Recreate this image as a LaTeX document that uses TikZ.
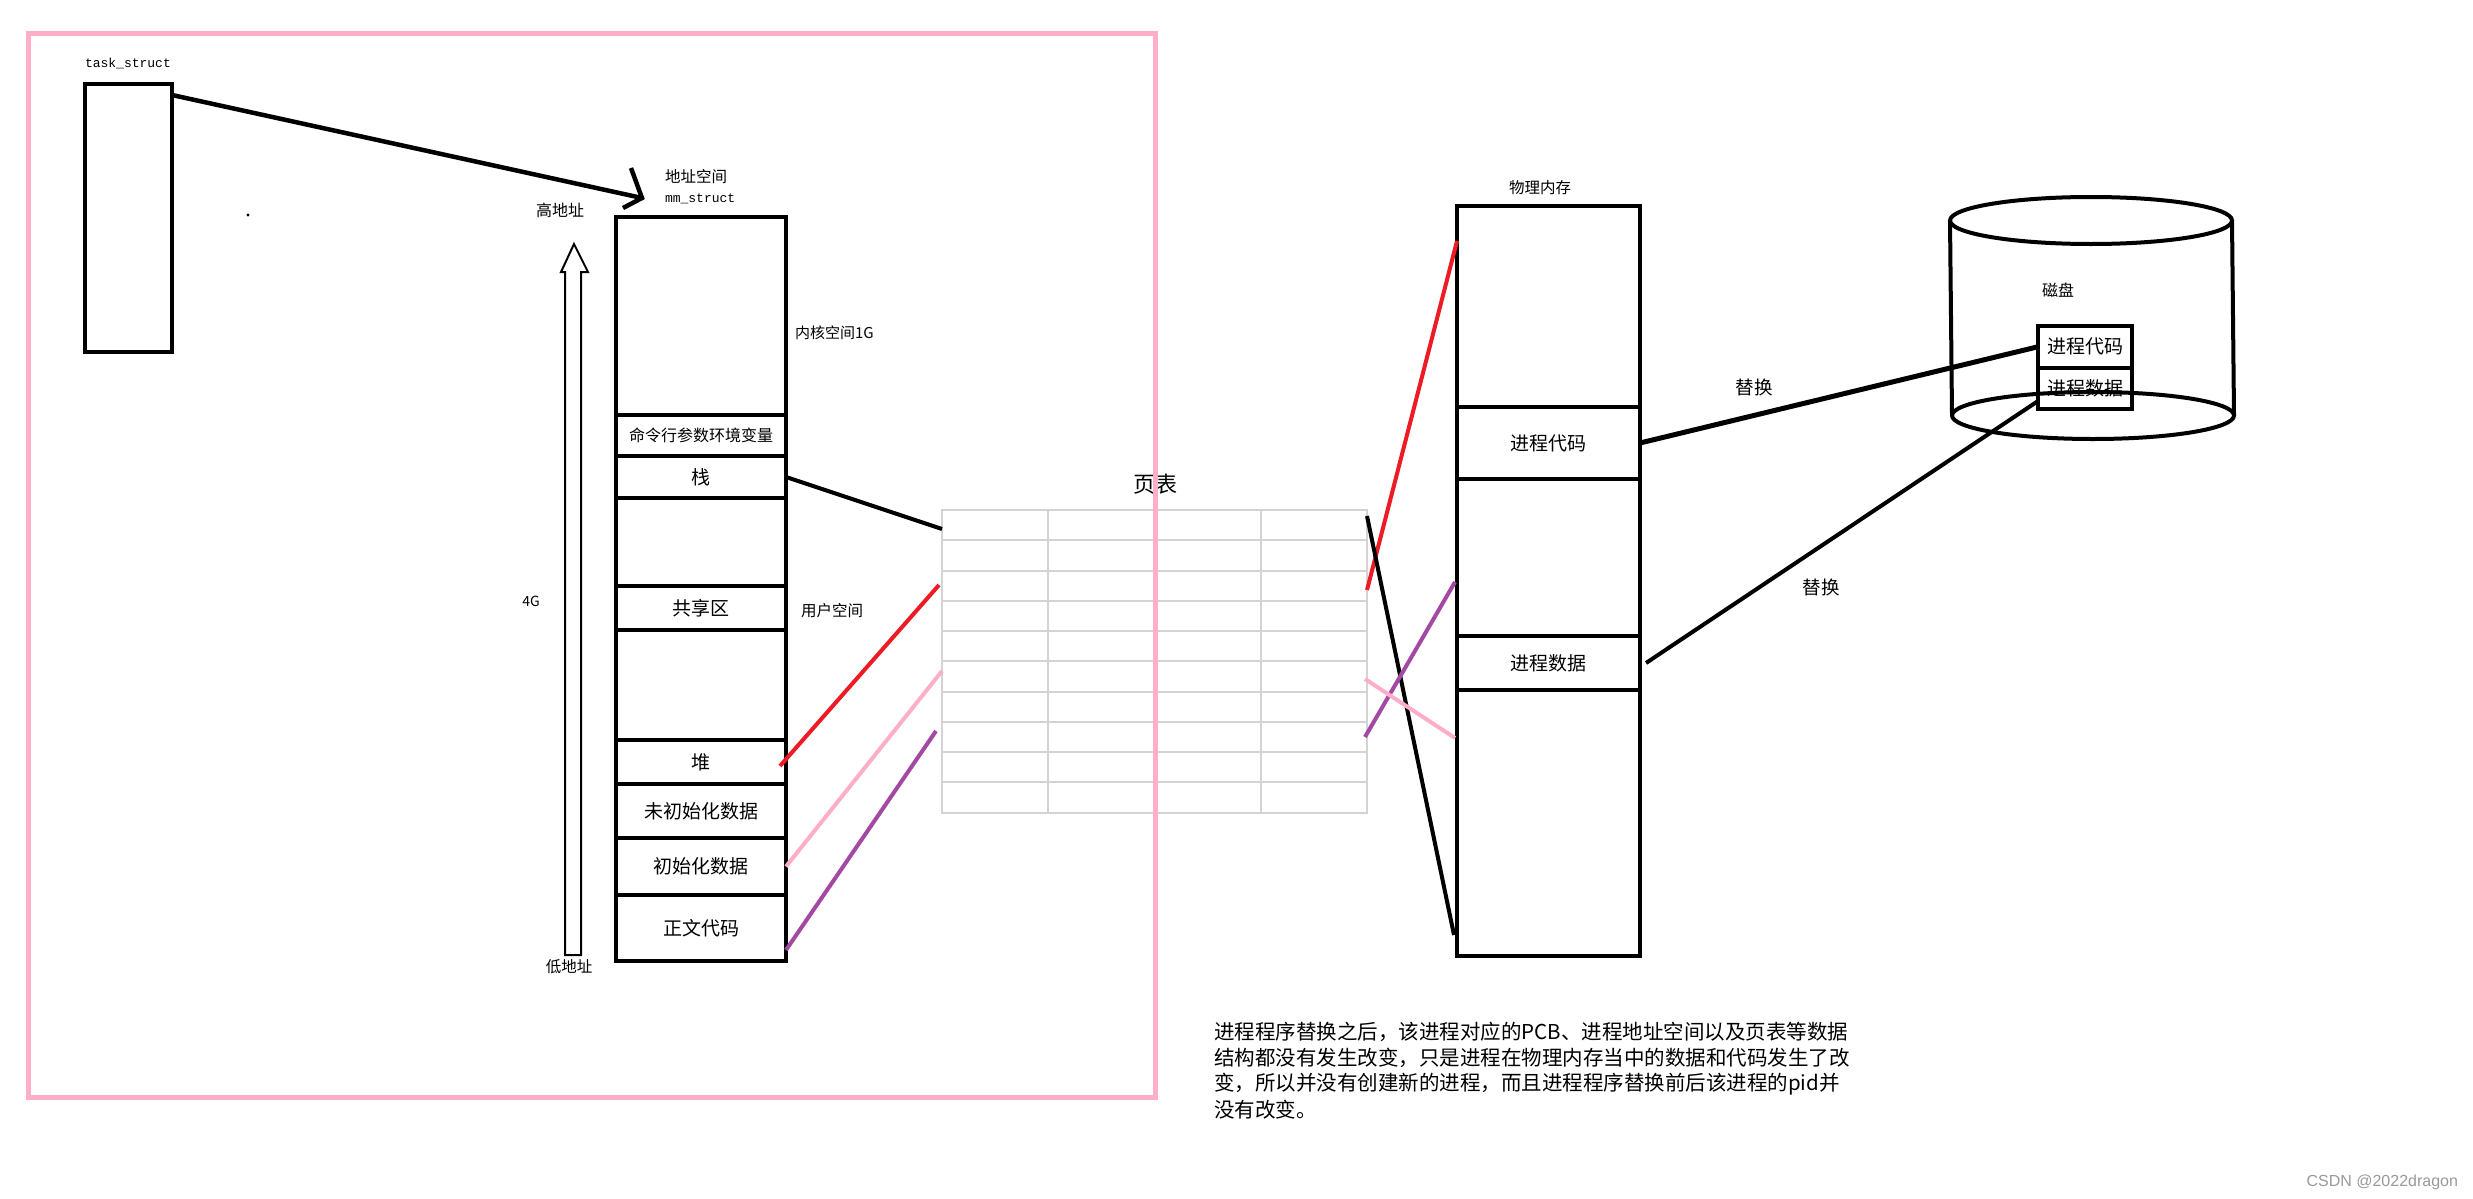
\documentclass[tikz,border=0pt]{standalone}
\usepackage{fontspec}
\setmainfont{Noto Sans CJK SC}
\newfontfamily\monof{Liberation Mono}
\newfontfamily\csdnf{Liberation Sans}
\usetikzlibrary{calc}
\definecolor{pinkf}{HTML}{FFAEC9}
\definecolor{redc}{HTML}{ED1C24}
\definecolor{purp}{HTML}{A349A4}
\definecolor{gridg}{HTML}{D3D3D3}
\definecolor{wmark}{HTML}{9A9A9A}
\newcommand\fsz[1]{\fontsize{#1}{#1}\selectfont}
\begin{document}
\begin{tikzpicture}[x=1pt,y=-1pt,
  seg/.style={draw=black,line width=4pt,inner sep=0pt,outer sep=0pt,anchor=north west},
  txt/.style={inner sep=0pt,outer sep=0pt,text=black},
  conn/.style={line width=4pt},
  gline/.style={draw=gridg,line width=2pt}]
\useasboundingbox (0,0) rectangle (2473,1199);
\fill[white] (0,0) rectangle (2473,1199);

% task_struct
\node[txt,anchor=west] (tsl) at (85,63) {\monof\fsz{13}task\_struct};
\node[seg,minimum width=87pt,minimum height=268pt] (task) at (85,84) {};
\fill (248,215) circle (1.6pt);
\coordinate (mmtip) at (642,198);
\draw[line width=4.5pt] ($(task.north east)+(0,11)$) -- (mmtip);
\draw[line width=4.5pt,line join=miter] (631,168) -- (mmtip) -- (623,208);
\node[txt,anchor=west] (asl) at (665,177) {\fsz{15.5}地址空间};
\node[txt,anchor=west] (mml) at (665,199) {\monof\fsz{13}mm\_struct};

% address arrow
\node[txt] (hi) at (560,210) {\fsz{16}高地址};
\node[txt] (lo) at (569,967) {\fsz{15.5}低地址};
\node[txt] (fg) at (531,601) {\fsz{14}4G};
\draw[line width=2pt,line join=miter] (565,955) -- (565,272) -- (561,272) -- (574,244) -- (588,272) -- (581,272) -- (581,955) -- cycle;

% address space column
\node[seg,minimum width=170pt,minimum height=198pt] (kern) at (616,217) {};
\node[seg,minimum width=170pt,minimum height=41pt] (cmd) at (616,415) {\fsz{16}命令行参数环境变量};
\node[seg,minimum width=170pt,minimum height=42pt] (stack) at (616,456) {\fsz{19}栈};
\node[seg,minimum width=170pt,minimum height=88pt] (gap1) at (616,498) {};
\node[seg,minimum width=170pt,minimum height=44pt] (shared) at (616,586) {\fsz{19}共享区};
\node[seg,minimum width=170pt,minimum height=110pt] (gap2) at (616,630) {};
\node[seg,minimum width=170pt,minimum height=44pt] (heap) at (616,740) {\fsz{19}堆};
\node[seg,minimum width=170pt,minimum height=54pt] (bss) at (616,784) {\fsz{19}未初始化数据};
\node[seg,minimum width=170pt,minimum height=57pt] (data) at (616,838) {\fsz{19}初始化数据};
\node[seg,minimum width=170pt,minimum height=66pt] (text) at (616,895) {\fsz{19}正文代码};
\node[txt,anchor=west] (kl) at (795,333) {\fsz{15}内核空间1G};
\node[txt,anchor=west] (ul) at (801,611) {\fsz{15.5}用户空间};

% page table
\node[txt] (ptl) at (1155,484) {\fsz{22}页表};
\node[gline,inner sep=0pt,outer sep=0pt,anchor=north west,minimum width=425pt,minimum height=302.5pt] (pt) at (942,510) {};
\foreach \i in {1,...,9}
  \draw[gline] ($(pt.north west)+(0,30.25*\i)$) -- ($(pt.north east)+(0,30.25*\i)$);
\foreach \j in {1,2,3}
  \draw[gline] ($(pt.north west)+(106.25*\j,0)$) -- ($(pt.south west)+(106.25*\j,0)$);

% left connectors
\draw[conn] (stack.east) -- ($(pt.north west)+(0,19)$);
\draw[conn,redc] ($(heap.east)+(-6,4)$) -- ($(pt.north west)+(-3,75)$);
\draw[conn,pinkf] (data.east) -- ($(pt.north west)+(0,161)$);
\draw[conn,purp] ($(text.south east)+(0,-11)$) -- ($(pt.north west)+(-6,221)$);

% physical memory
\node[txt] (pml) at (1540,188) {\fsz{15.5}物理内存};
\node[seg,minimum width=183pt,minimum height=201pt] (ptop) at (1457,206) {};
\node[seg,minimum width=183pt,minimum height=72pt] (pcode) at (1457,407) {\fsz{19}进程代码};
\node[seg,minimum width=183pt,minimum height=157pt] (pmid) at (1457,479) {};
\node[seg,minimum width=183pt,minimum height=54pt] (pdata) at (1457,636) {\fsz{19}进程数据};
\node[seg,minimum width=183pt,minimum height=266pt] (pbot) at (1457,690) {};

% right connectors
\draw[conn,redc] ($(pt.north east)+(0,80)$) -- ($(ptop.north west)+(0,35)$);
\draw[conn] ($(pt.north east)+(0,6)$) -- ($(pbot.south west)+(-3,-21)$);
\draw[conn,purp] ($(pt.north east)+(-2,227)$) -- ($(pmid.north west)+(-2,103)$);
\draw[conn,pinkf] ($(pt.north east)+(-2,169)$) -- ($(pbot.north west)+(-2,48)$);

% disk
\draw[line width=4pt] (2091,220.5) ellipse [x radius=141pt,y radius=23.5pt];
\draw[line width=4pt] (1950,220.5) -- (1952,415.5);
\draw[line width=4pt] (2232,220.5) -- (2234,415.5);
\node[txt] (dl) at (2058,290) {\fsz{16}磁盘};
\node[seg,minimum width=94pt,minimum height=41.5pt] (dcode) at (2038,326) {\fsz{19}进程代码};
\node[seg,minimum width=94pt,minimum height=41.5pt] (ddata) at (2038,367.5) {\fsz{19}进程数据};
\draw[line width=4pt] (2093,415.5) ellipse [x radius=141pt,y radius=23.5pt];

% swap connectors
\draw[line width=5pt] (pcode.east) -- (dcode.west);
\draw[conn] ($(pdata.east)+(6,0)$) -- ($(ddata.south west)+(0,-8)$);
\node[txt] (sw1) at (1754,387) {\fsz{18.5}替换};
\node[txt] (sw2) at (1821,587) {\fsz{18.5}替换};

% paragraph
\node[txt,anchor=west] (p1) at (1214,1032) {\fsz{20.5}进程程序替换之后，该进程对应的PCB、进程地址空间以及页表等数据};
\node[txt,anchor=west] (p2) at (1214,1058) {\fsz{20.5}结构都没有发生改变，只是进程在物理内存当中的数据和代码发生了改};
\node[txt,anchor=west] (p3) at (1214,1084) {\fsz{20.5}变，所以并没有创建新的进程，而且进程程序替换前后该进程的pid并};
\node[txt,anchor=west] (p4) at (1214,1110) {\fsz{20.5}没有改变。};

% watermark
\node[txt,anchor=east,text=wmark] (wm) at (2458,1182) {\csdnf\fsz{16}CSDN @2022dragon};

% pink frame
\draw[pinkf,line width=5pt] (28,34) rectangle (1155.5,1097);
\end{tikzpicture}
\end{document}
